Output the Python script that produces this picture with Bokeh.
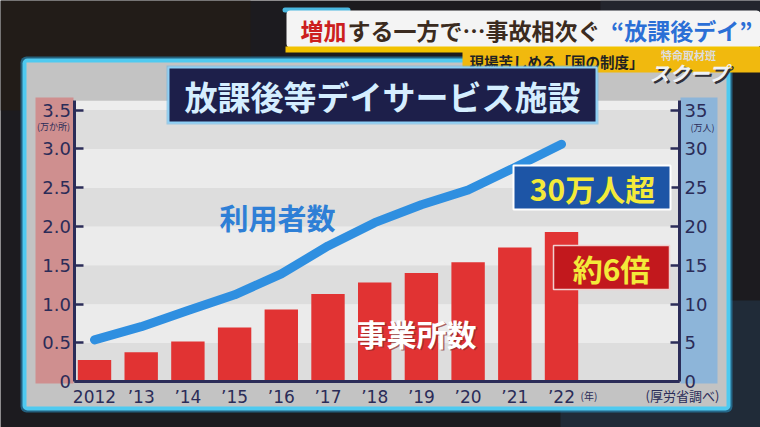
from bokeh.plotting import figure
from bokeh.models import Range1d, LinearAxis, FixedTicker, BoxAnnotation, Label
from bokeh.embed import file_html
from bokeh.resources import INLINE

# ---- data ----
years = ["2012", "’13", "’14", "’15", "’16", "’17", "’18", "’19", "’20", "’21", "’22"]
facilities = [0.28, 0.38, 0.52, 0.70, 0.93, 1.13, 1.28, 1.40, 1.54, 1.73, 1.93]   # 万か所
users = [5.4, 7.1, 9.2, 11.2, 13.9, 17.5, 20.5, 22.8, 24.7, 27.6, 30.6]          # 万人
left_ticks = [0, 0.5, 1.0, 1.5, 2.0, 2.5, 3.0, 3.5]
left_tick_labels = ["0", "0.5", "1.0", "1.5", "2.0", "2.5", "3.0", "3.5"]
right_ticks = [0, 5, 10, 15, 20, 25, 30, 35]
right_tick_labels = ["0", "5", "10", "15", "20", "25", "30", "35"]
idx = list(range(len(years)))

CJK = "Noto Sans CJK JP"
NUM = "DejaVu Sans"
NAVY = "#2b2c58"

W, H = 760, 427
# category spacing / value scale of the drawing
X0, DX = 94.0, 46.7          # page x of first category, spacing
Y0, DY = 381.3, 77.63        # page y of value 0, px per unit (left axis)
xs = -X0 / DX
xe = (W - X0) / DX
ys = (Y0 - H) / DY
ye = Y0 / DY
X_LEFT = (73.5 - X0) / DX
X_RIGHT = (679.0 - X0) / DX
Y_TOP = 3.62

p = figure(width=W, height=H, output_backend="svg", toolbar_location=None,
           x_range=Range1d(xs, xe), y_range=Range1d(ys, ye),
           min_border_left=0, min_border_right=0, min_border_top=0, min_border_bottom=0,
           x_axis_location=None, y_axis_location=None)
p.title.visible = False
p.extra_y_ranges = {"users": Range1d(ys * 10, ye * 10)}
p.border_fill_color = "#1c1b1f"
p.background_fill_color = "#1c1b1f"
p.outline_line_color = None
p.grid.visible = False


def sx(px):
    return px


def sy(py):
    return H - py


def box(x0, y0, x1, y1, fill, level="underlay", line=None, lw=1, radius=0, alpha=1.0):
    b = BoxAnnotation(left=sx(x0), right=sx(x1), top=sy(y0), bottom=sy(y1),
                      left_units="screen", right_units="screen",
                      top_units="screen", bottom_units="screen",
                      fill_color=fill, fill_alpha=alpha, line_color=line, line_width=lw,
                      line_alpha=1.0, level=level, border_radius=radius)
    p.add_layout(b)
    return b


def label(x, y, text, size, color, align="left", bold=True, font=CJK, italic=False, alpha=1.0):
    style = "bold" if bold else "normal"
    if italic:
        style = "bold italic" if bold else "italic"
    lab = Label(x=sx(x), y=sy(y), x_units="screen", y_units="screen", text=text,
                text_font_size=f"{size}px", text_color=color, text_align=align,
                text_baseline="middle", text_font=font, text_font_style=style,
                text_alpha=alpha)
    p.add_layout(lab)
    return lab


# background tint
box(0, 0, 250, 110, "#241d17", alpha=0.8)
box(560, 300, 760, 427, "#22303f", alpha=0.8)
box(600, 0, 760, 60, "#262a33", alpha=0.7)

# panel behind the chart
box(20, 56, 732, 412, "#2a8fc0", radius=6, alpha=0.6)
box(22, 58, 730, 410, "#4fcaf0", radius=5)
box(26, 62, 726, 406, "#c3c3c3")
box(35, 97, 73, 383, "#cf8f8f")
box(680, 97, 717, 383, "#8db5d9")

# plot-area bands (data units)
p.add_layout(BoxAnnotation(left=X_LEFT, right=X_RIGHT, bottom=0, top=Y_TOP,
                           fill_color="#ededed", fill_alpha=1, line_color=None, level="underlay"))
for i in range(7):
    col = "#dddddd" if i % 2 == 0 else "#ebebeb"
    p.add_layout(BoxAnnotation(left=X_LEFT, right=X_RIGHT, bottom=left_ticks[i],
                               top=left_ticks[i + 1], fill_color=col, fill_alpha=1,
                               line_color=None, level="underlay"))

# ---- data marks ----
p.vbar(x=idx, top=facilities, width=0.715, fill_color="#e13333", line_color=None)
p.line(x=idx, y=users, y_range_name="users", line_width=9, line_color="#2f8fe0",
       line_cap="round", line_join="round")


# ---- axes ----
def style_axis(ax, size):
    ax.axis_line_color = NAVY
    ax.axis_line_width = 3
    ax.major_tick_line_color = NAVY
    ax.major_tick_line_width = 2.5
    ax.major_tick_in = 9
    ax.major_tick_out = 0
    ax.minor_tick_line_color = None
    ax.major_label_text_font = NUM
    ax.major_label_text_font_size = size
    ax.major_label_text_color = NAVY


ly = LinearAxis(ticker=FixedTicker(ticks=left_ticks), fixed_location=X_LEFT, bounds=(0, Y_TOP))
ly.major_label_overrides = {t: s for t, s in zip(left_ticks, left_tick_labels)}
style_axis(ly, "18px")
ly.major_label_standoff = 3
p.add_layout(ly, "left")

ry = LinearAxis(y_range_name="users", ticker=FixedTicker(ticks=right_ticks),
                fixed_location=X_RIGHT, bounds=(0, Y_TOP * 10))
ry.major_label_overrides = {t: s for t, s in zip(right_ticks, right_tick_labels)}
style_axis(ry, "18px")
ry.major_label_standoff = 5
p.add_layout(ry, "right")

xa = LinearAxis(ticker=FixedTicker(ticks=idx), fixed_location=0, bounds=(X_LEFT, X_RIGHT))
xa.major_label_overrides = {i: y for i, y in zip(idx, years)}
style_axis(xa, "17px")
xa.major_tick_line_color = None
xa.major_label_standoff = 5
p.add_layout(xa, "below")

# ---- titles / annotations ----
# top banner
box(282, 7, 350, 12, "#4ab8e0", level="annotation", radius=3)
box(286, 10, 760, 47, "#f4f4f4", level="annotation", radius=4)
box(285, 46, 760, 52, "#f2c200", level="annotation")
box(462, 49, 760, 72, "#f1b90e", level="annotation")
label(300, 29, "増加", 23, "#cc1f1f")
label(347, 29, "する一方で…事故相次ぐ", 23, "#3b2b20")
label(752, 29, "“放課後デイ”", 23, "#2b6fd6", align="right")
label(469, 61, "現場苦しめる「国の制度」", 14.5, "#222222")
label(688, 54, "特命取材班", 11, "#dddddd", align="center")
label(691, 74, "スクープ", 20, "#30303a", align="center", italic=True)
label(689, 72, "スクープ", 20, "#eef2f8", align="center", italic=True)

# chart title
box(166, 65, 598, 124, "#5fb6e8", level="annotation", alpha=0.5)
box(168, 67, 596, 122, "#1d1f4a", level="annotation", line="#8fd0f5", lw=2)
label(382, 95, "放課後等デイサービス施設", 33, "#d5eeff", align="center")

# series labels
label(277, 216, "利用者数", 29, "#2e7fd6", align="center")
label(417.5, 333.5, "事業所数", 30, "#8a2a2a", align="center", alpha=0.7)
label(416, 332, "事業所数", 30, "#ffffff", align="center")

# callouts
box(513, 165, 670, 209, "#1d55a6", level="annotation", line="white", lw=2)
label(592, 187, "30万人超", 30, "#f3ea3a", align="center")
box(553, 245, 669, 289, "#c2181d", level="annotation", line="#f0d0d0", lw=1.5)
label(611, 267, "約6倍", 30, "#f3ea3a", align="center")

# units and source
label(53, 126, "(万か所)", 9, NAVY, align="center", bold=False)
label(702, 127, "(万人)", 9, NAVY, align="center", bold=False)
label(580, 395, "(年)", 10, NAVY, bold=False)
label(682, 395, "(厚労省調べ)", 13, NAVY, align="center", bold=False)

open("out.html", "w").write(file_html(p, INLINE))
